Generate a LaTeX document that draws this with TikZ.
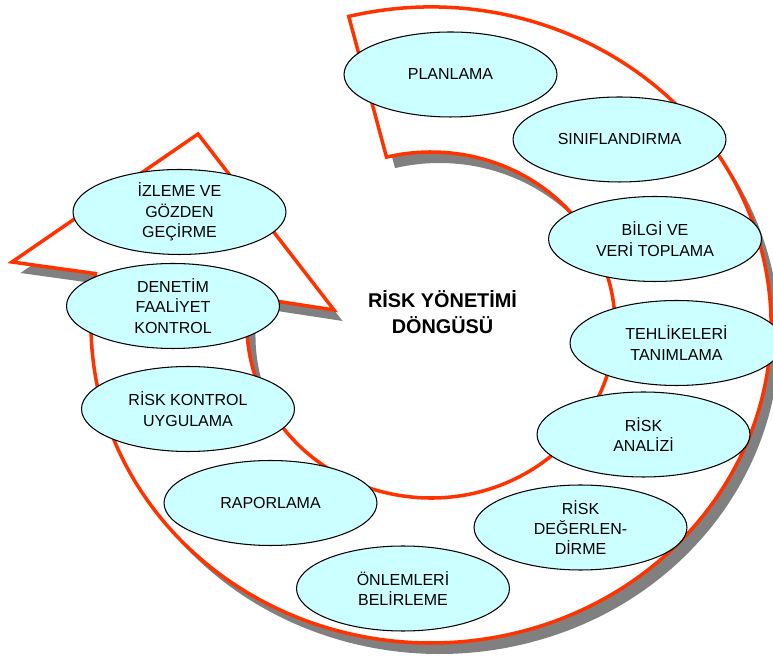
\documentclass[tikz,border=0pt]{standalone}
\usepackage{fontspec}
\setmainfont{Liberation Sans}
\usetikzlibrary{shapes.geometric,shadows}
\definecolor{ringred}{RGB}{255,51,0}
\definecolor{stagecyan}{RGB}{204,255,255}
\definecolor{shadowgray}{RGB}{128,128,128}
\tikzstyle{stage} = [ellipse, minimum width=4.26cm, minimum height=1.7cm, inner sep=0pt, text centered, align=center, draw=black, line width=0.6pt, fill=stagecyan, font=\fontsize{9.1}{11.6}\selectfont]
\tikzstyle{ring} = [draw=ringred, line width=2pt, fill=white, drop shadow={shadow xshift=0.17cm, shadow yshift=-0.22cm, fill=shadowgray, opacity=1}]
\tikzstyle{heading} = [align=center, font=\bfseries\fontsize{11.3}{14.7}\selectfont]

\begin{document}
\begin{tikzpicture}[x=0.02cm, y=0.02cm]

        \useasboundingbox (0,0) rectangle (773,655);

        % the cycle arrow
        \draw [ring] ([shift={(431,330)}]104:340 and 318)
                arc [start angle=104, end angle=-189.3, x radius=340, y radius=318]
                -- (12,393) -- (198,521) -- (334,345)
                -- ([shift={(431,330)}]170.7:184 and 173)
                arc [start angle=-189.3, end angle=104, x radius=184, y radius=173]
                -- cycle;

        \node (title) [heading] at (442.5,342.5) {RİSK YÖNETİMİ\\DÖNGÜSÜ};

        \node (planlama) [stage] at (450.5,580.5) {PLANLAMA};
        \node (sinif) [stage] at (619.5,515.5) {SINIFLANDIRMA};
        \node (bilgi) [stage] at (655,416) {BİLGİ VE\\VERİ TOPLAMA};
        \node (tehlike) [stage] at (676.5,312) {TEHLİKELERİ\\TANIMLAMA};
        \node (analiz) [stage] at (643.5,220.5) {RİSK\\ANALİZİ};
        \node (degerlendirme) [stage] at (580.5,127.5) {RİSK\\DEĞERLEN-\\DİRME};
        \node (onlem) [stage] at (403,66.5) {ÖNLEMLERİ\\BELİRLEME};
        \node (rapor) [stage] at (270.5,152) {RAPORLAMA};
        \node (uygulama) [stage] at (188,246) {RİSK KONTROL\\UYGULAMA};
        \node (denetim) [stage] at (173,349) {DENETİM\\FAALİYET\\KONTROL};
        \node (izleme) [stage] at (179.5,443) {İZLEME VE\\GÖZDEN\\GEÇİRME};

\end{tikzpicture}
\end{document}
